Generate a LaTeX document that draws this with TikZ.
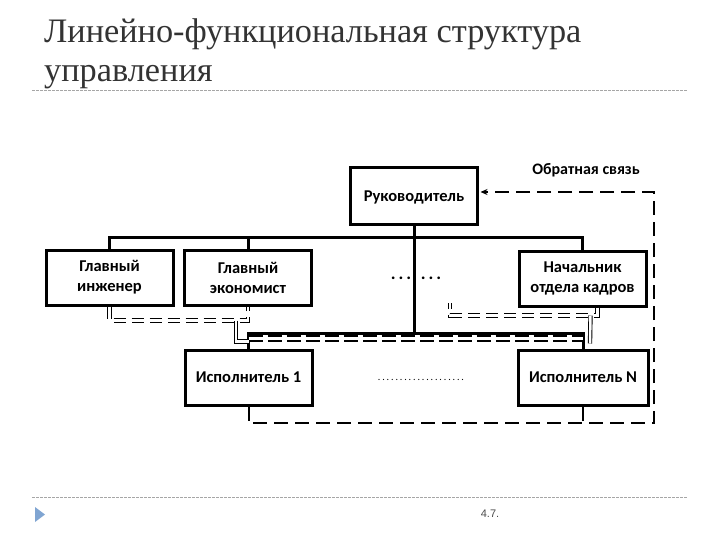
\documentclass[tikz,border=0pt]{standalone}
\usepackage{fontspec}
\setmainfont{Carlito}
\newfontfamily\titlefont{Liberation Serif}
\newfontfamily\numfont{Liberation Sans}
\usetikzlibrary{calc, arrows.meta}
\definecolor{slideblue}{RGB}{128,165,210}
\tikzstyle{box} = [draw, line width=3pt, minimum width=127pt, minimum height=55pt, inner sep=0pt, align=center, font=\bfseries\fontsize{16.5}{20}\selectfont]
\tikzstyle{bus} = [line width=3pt]
\tikzstyle{fline} = [double, double distance=2.5pt, line width=0.9pt]
\tikzstyle{fdash} = [fline, dash pattern=on 12pt off 6pt]
\tikzstyle{fback} = [line width=2pt, dash pattern=on 14pt off 7pt]
\tikzstyle{sep} = [black!35, dash pattern=on 3pt off 1pt, line width=0.8pt]

\begin{document}
\begin{tikzpicture}[x=1pt, y=-1pt]
    \useasboundingbox (0,0) rectangle (720,540);
    % title and slide frame
    \node[anchor=base west, inner sep=0pt, text=black!80, font=\titlefont\fontsize{34.3}{40}\selectfont] (title1) at (44,43) {Линейно-функциональная структура};
    \node[anchor=base west, inner sep=0pt, text=black!80, font=\titlefont\fontsize{34.3}{40}\selectfont] (title2) at (44,82) {управления};
    \draw[sep] (32,90) -- (688,90);
    \draw[sep] (32,497) -- (688,497);
    \fill[slideblue] (35,507) -- (45,514.5) -- (35,522) -- cycle;
    \node[text=black!70, font=\numfont\fontsize{11}{13}\selectfont] (page) at (490,514) {4.7.};

    % boxes
    \node[box, minimum height=57pt, text depth=-6pt] (ruk) at (414,196.5) {Руководитель};
    \node[box] (inzh) at (109.5,277.5) {Главный\\инженер};
    \node[box] (ekon) at (248,277.5) {Главный\\экономист};
    \node[box] (nach) at (582.5,278.5) {Начальник\\отдела кадров};
    \node[box] (isp1) at (248.5,377.5) {Исполнитель 1};
    \node[box, minimum width=130pt] (ispN) at (583,377.5) {Исполнитель N};

    % line links
    \coordinate (top) at (0,237);
    \coordinate (low) at (0,333);
    \draw[bus] (inzh.north) |- (nach.north |- top) -- (nach.north);
    \draw[bus] (ekon.north) -- (ekon.north |- top);
    \draw[bus] (ruk.south) -- (ruk.south |- low);
    \draw[bus] (isp1.north) |- (ispN.north |- low) -- (ispN.north);

    % dots
    \node[font=\bfseries\fontsize{18}{20}\selectfont] (dotsL) at (401,278) {.\hspace{3pt}.\hspace{3pt}.};
    \node[font=\bfseries\fontsize{18}{20}\selectfont] (dotsR) at (431,278) {.\hspace{3pt}.\hspace{3pt}.};
    \node[font=\fontsize{10}{12}\selectfont] (dotsE) at (421,380) {\makebox[92pt]{\dotfill}};

    % functional links
    \draw[fdash] (inzh.south) |- ($(ekon.south)+(0,14)$) coordinate (fa) -- (ekon.south);
    \draw[fline] ([xshift=-12pt]fa) |- ([yshift=7pt]isp1.north);
    \coordinate (fend) at (450,303);
    \draw[fdash] ([xshift=15pt]nach.south) -- ++(0,8) coordinate (fb) -| (fend);
    \draw[fline] ([xshift=-7pt]fb) -- ([xshift=7pt, yshift=5pt]ispN.north);
    \draw[fdash, line width=2pt, double distance=3.5pt, dash pattern=on 14pt off 5pt] ([yshift=10pt]isp1.north) -- ([yshift=10pt]ispN.north);

    % feedback
    \coordinate (fbot) at (654,423);
    \coordinate (ftop) at (654,192);
    \draw[fback, -{Stealth[length=7pt, width=6pt]}, shorten >=1.5pt] (isp1.south) |- (fbot) -- (ftop) -- (ruk.east |- ftop);
    \draw[fback] (ispN.south) -- (ispN.south |- fbot);
    \node[font=\bfseries\fontsize{16}{18}\selectfont] (fblabel) at (586,170) {Обратная связь};
\end{tikzpicture}
\end{document}
